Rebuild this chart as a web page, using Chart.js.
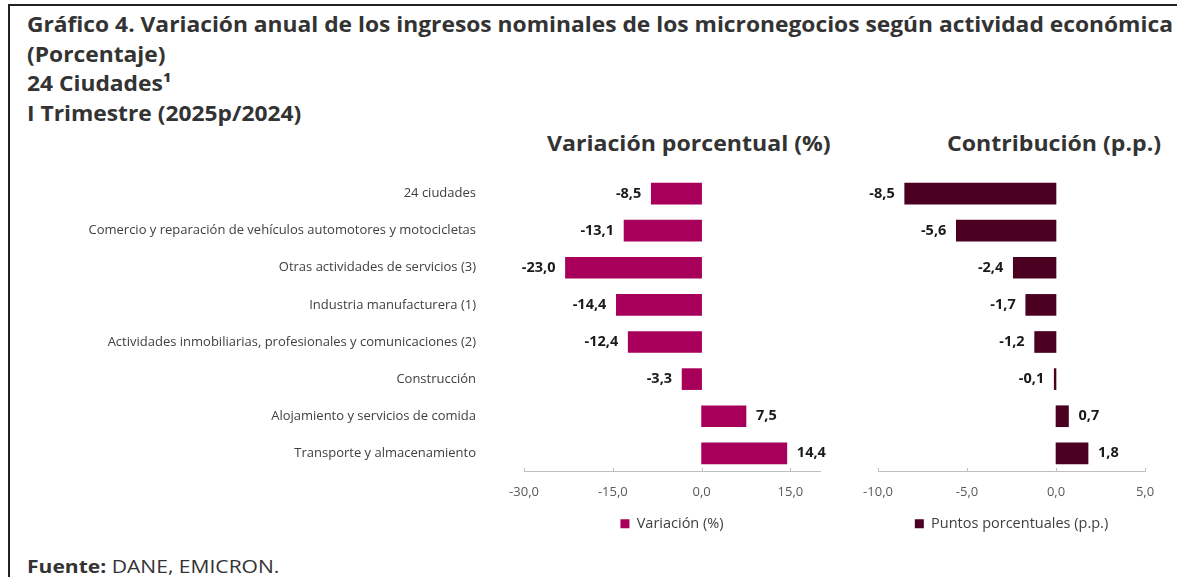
<!DOCTYPE html>
<html>
<head>
<meta charset="utf-8">
<script src="https://cdn.jsdelivr.net/npm/chart.js@4/dist/chart.umd.min.js"></script>
<style>
    body { margin: 0; background: #fff; width: 1177px; height: 577px; overflow: hidden; position: relative; font-family: "Open Sans", sans-serif; color: #333; }
    #marco { position: absolute; left: 8px; top: 4px; width: 1200px; height: 600px; border-top: 2px solid #222; border-left: 2px solid #222; }
    #titulo { position: absolute; left: 27px; top: 10px; font-size: 21px; font-weight: bold; line-height: 29.5px; white-space: nowrap; transform: scaleX(1.085); transform-origin: left top; }
    .panel { position: absolute; top: 130px; font-size: 21px; font-weight: bold; line-height: 26px; white-space: nowrap; transform: scaleX(1.1); transform-origin: left top; }
    #fuente { position: absolute; left: 27px; top: 554px; font-size: 18px; line-height: 24px; white-space: nowrap; transform: scaleX(1.17); transform-origin: left top; }
    canvas { position: absolute; top: 150px; }
</style>
</head>
<body>
<div id="marco"></div>
<div id="titulo">
    Gráfico 4. Variación anual de los ingresos nominales de los micronegocios según actividad económica<br>
    (Porcentaje)<br>
    24 Ciudades¹<br>
    I Trimestre (2025p/2024)
</div>
<div class="panel" style="left:547px">Variación porcentual (%)</div>
<div class="panel" style="left:947px">Contribución (p.p.)</div>
<canvas id="chart-var" width="835" height="391" style="left:0px"></canvas>
<canvas id="chart-con" width="337" height="391" style="left:840px"></canvas>
<div id="fuente"><b>Fuente:</b> DANE, EMICRON.</div>

<script>
var categorias = [
    "24 ciudades",
    "Comercio y reparación de vehículos automotores y motocicletas",
    "Otras actividades de servicios (3)",
    "Industria manufacturera (1)",
    "Actividades inmobiliarias, profesionales y comunicaciones (2)",
    "Construcción",
    "Alojamiento y servicios de comida",
    "Transporte y almacenamiento"
];
var variacion = [-8.5, -13.1, -23.0, -14.4, -12.4, -3.3, 7.5, 14.4];
var contribucion = [-8.5, -5.6, -2.4, -1.7, -1.2, -0.1, 0.7, 1.8];
var ticks_variacion = [-30, -15, 0, 15];
var ticks_contribucion = [-10, -5, 0, 5];

Chart.defaults.font.family = '"Open Sans", sans-serif';

function fmt(v) {
    return v.toFixed(1).replace('.', ',');
}

// etiquetas de valor al final de cada barra
var valueLabels = {
    id: 'valueLabels',
    afterDatasetsDraw: function(chart) {
        var ctx = chart.ctx;
        var meta = chart.getDatasetMeta(0);
        var data = chart.data.datasets[0].data;
        ctx.save();
        ctx.font = 'bold 14.5px "Open Sans"';
        ctx.fillStyle = '#1a1a1a';
        ctx.textBaseline = 'middle';
        meta.data.forEach(function(bar, i) {
            var v = data[i];
            ctx.textAlign = v < 0 ? 'right' : 'left';
            ctx.fillText(fmt(v), v < 0 ? bar.x - 10 : bar.x + 10, bar.y);
        });
        ctx.restore();
    }
};

// marcas del eje hacia adentro
var tickMarks = {
    id: 'tickMarks',
    afterDraw: function(chart) {
        var ctx = chart.ctx;
        var sx = chart.scales.x;
        ctx.save();
        ctx.strokeStyle = '#bfbfbf';
        ctx.lineWidth = 1;
        sx.ticks.forEach(function(t) {
            var px = Math.round(sx.getPixelForValue(t.value)) + 0.5;
            ctx.beginPath();
            ctx.moveTo(px, sx.top - 4);
            ctx.lineTo(px, sx.top);
            ctx.stroke();
        });
        ctx.restore();
    }
};

function makeChart(id, label, data, color, xmin, xmax, xticks, showY, padLeft, padRight) {
    var ctx = document.getElementById(id).getContext('2d');
    return new Chart(ctx, {
        type: 'bar',
        data: {
            labels: categorias,
            datasets: [{
                label: label,
                data: data,
                backgroundColor: color,
                borderColor: color,
                borderWidth: 0,
                barThickness: 21
            }]
        },
        options: {
            indexAxis: 'y',
            responsive: false,
            animation: false,
            layout: {
                padding: { top: 25, bottom: 0, left: padLeft, right: padRight }
            },
            scales: {
                x: {
                    min: xmin,
                    max: xmax,
                    afterBuildTicks: function(scale) {
                        scale.ticks = xticks.map(function(v) { return { value: v }; });
                    },
                    grid: { display: false },
                    border: { display: true, color: '#bfbfbf', width: 1 },
                    ticks: {
                        padding: 5,
                        color: '#595959',
                        font: { size: 13 },
                        callback: function(v) { return fmt(v); }
                    }
                },
                y: {
                    display: showY,
                    afterFit: function(scale) {
                        if (showY) scale.width = 524;
                        // sin reservar espacio arriba/abajo por el padding de las etiquetas
                        scale.paddingTop = 0;
                        scale.paddingBottom = 0;
                    },
                    grid: { display: false },
                    border: { display: false },
                    ticks: {
                        padding: 40,
                        color: '#404040',
                        font: { size: 13 }
                    }
                }
            },
            plugins: {
                legend: {
                    position: 'bottom',
                    fullSize: false,
                    labels: {
                        boxWidth: 9,
                        boxHeight: 9,
                        padding: 11,
                        color: '#404040',
                        font: { size: 14.5 }
                    }
                },
                tooltip: { enabled: false }
            }
        },
        plugins: [valueLabels, tickMarks]
    });
}

var chartVar = makeChart('chart-var', 'Variación (%)', variacion, '#A8005A', -30, 20, ticks_variacion, true, 0, 15);
var chartCon = makeChart('chart-con', 'Puntos porcentuales (p.p.)', contribucion, '#4B0022', -10, 5, ticks_contribucion, false, 38, 32);
</script>
</body>
</html>
